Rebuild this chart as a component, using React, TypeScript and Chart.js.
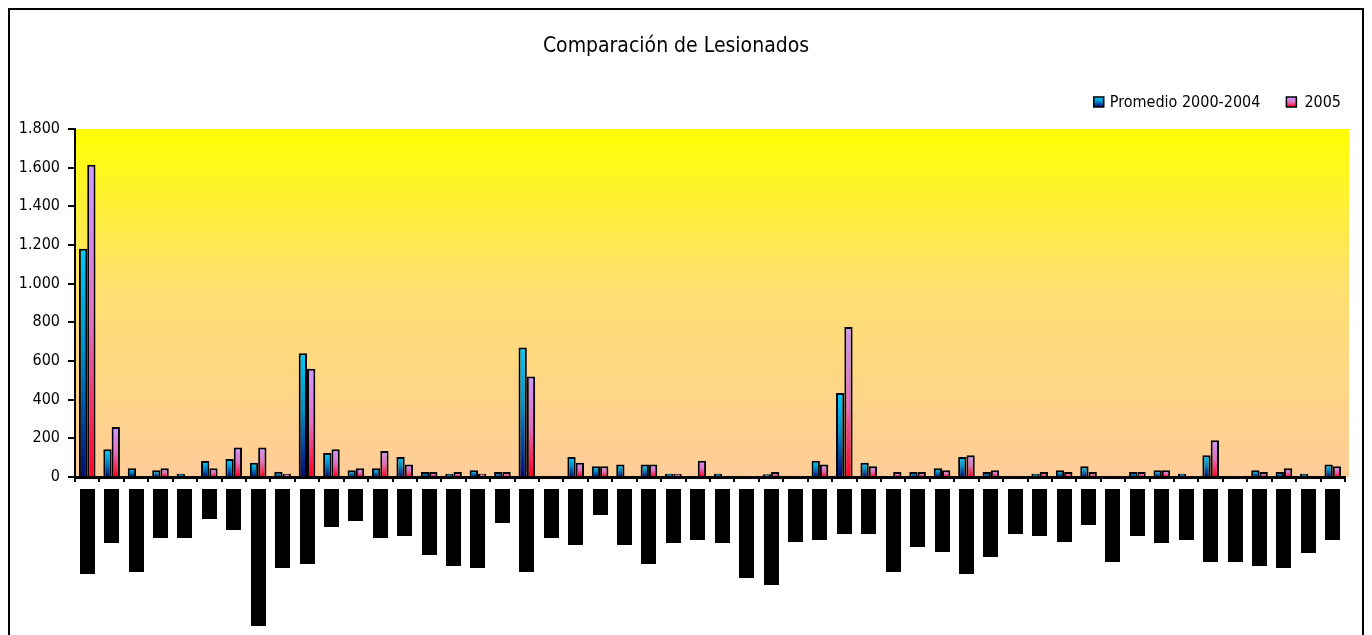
import React, { useEffect, useRef } from "react";
import { Chart, registerables } from "chart.js";

Chart.register(...registerables);

const categories = [
  "C01", "C02", "C03", "C04", "C05", "C06", "C07", "C08", "C09", "C10",
  "C11", "C12", "C13", "C14", "C15", "C16", "C17", "C18", "C19", "C20",
  "C21", "C22", "C23", "C24", "C25", "C26", "C27", "C28", "C29", "C30",
  "C31", "C32", "C33", "C34", "C35", "C36", "C37", "C38", "C39", "C40",
  "C41", "C42", "C43", "C44", "C45", "C46", "C47", "C48", "C49", "C50",
  "C51", "C52",
];

const promedio = [
  1180, 143, 45, 35, 17, 83, 93, 74, 27, 640,
  124, 35, 45, 103, 26, 17, 35, 26, 670, 3,
  103, 55, 65, 65, 17, 3, 17, 3, 14, 3,
  84, 435, 74, 3, 26, 45, 103, 26, 3, 17,
  35, 55, 3, 26, 35, 17, 112, 3, 35, 26,
  17, 65,
];

const anio2005 = [
  1615, 259, 5, 45, 3, 45, 152, 152, 17, 560,
  143, 45, 134, 65, 26, 26, 17, 26, 520, 2,
  74, 55, 3, 65, 17, 84, 5, 3, 26, 3,
  65, 776, 55, 26, 26, 35, 112, 35, 3, 26,
  26, 26, 3, 26, 35, 3, 190, 3, 26, 45,
  3, 55,
];

// lengths (px) of the redacted (blacked-out) category labels
const redactedLabelLengths = [
  85, 54, 83, 49, 49, 30, 41, 137, 79, 75,
  38, 32, 49, 47, 66, 77, 79, 34, 83, 49,
  56, 26, 56, 75, 54, 51, 54, 89, 96, 53,
  51, 45, 45, 83, 58, 63, 85, 68, 45, 47,
  53, 36, 73, 47, 54, 51, 73, 73, 77, 79,
  64, 51,
];

const yTicks = [0, 200, 400, 600, 800, 1000, 1200, 1400, 1600, 1800];

const seriesNames = ["Promedio 2000-2004", "2005"];
const title = "Comparación de Lesionados";

const FONT = "'Liberation Sans Narrow', 'DejaVu Sans Condensed', 'Roboto Condensed', 'Liberation Sans', sans-serif";

const blueStops: [number, string][] = [
  [0, "#00CCFF"],
  [0.45, "#0090C8"],
  [1, "#000A78"],
];
const pinkStops: [number, string][] = [
  [0, "#CC99FF"],
  [0.5, "#E070C0"],
  [1, "#FF0020"],
];

function makeGradient(ctx: CanvasRenderingContext2D, top: number, bottom: number, stops: [number, string][]) {
  const g = ctx.createLinearGradient(0, top, 0, bottom);
  stops.forEach(([o, c]) => g.addColorStop(o, c));
  return g;
}

function barFill(stops: [number, string][]) {
  return (c: any) => {
    const chart = c.chart;
    const ys = chart.scales?.y;
    if (!chart.chartArea || !ys || c.type !== "data") return stops[0][1];
    const v = c.raw as number;
    const top = ys.getPixelForValue(v);
    const bottom = ys.getPixelForValue(0);
    if (bottom - top < 1) return stops[stops.length - 1][1];
    return makeGradient(chart.ctx, top, bottom, stops);
  };
}

const fmt = (v: number) => String(v).replace(/\B(?=(\d{3})+(?!\d))/g, ".");

const decorPlugin = {
  id: "decor",
  beforeDraw(chart: any) {
    const { ctx, chartArea } = chart;
    if (!chartArea) return;
    ctx.save();
    const g = ctx.createLinearGradient(0, chartArea.top, 0, chartArea.bottom);
    g.addColorStop(0, "#FFFF00");
    g.addColorStop(0.45, "#FFE070");
    g.addColorStop(1, "#FFCC99");
    ctx.fillStyle = g;
    ctx.fillRect(chartArea.left, chartArea.top, chartArea.right - chartArea.left + 4, chartArea.bottom - chartArea.top);
    ctx.restore();
  },
  afterDraw(chart: any) {
    const { ctx, chartArea } = chart;
    const xs = chart.scales.x;
    ctx.save();
    // title
    ctx.fillStyle = "#000";
    ctx.font = `21px ${FONT}`;
    ctx.textAlign = "center";
    ctx.textBaseline = "middle";
    ctx.fillText(title, chart.width / 2 - 10, 37);

    // legend
    ctx.font = `16px ${FONT}`;
    ctx.textAlign = "left";
    const legendY = 92;
    const box = 10;
    const rightEdge = 1331;
    const w2 = ctx.measureText(seriesNames[1]).width;
    const w1 = ctx.measureText(seriesNames[0]).width;
    const x2text = rightEdge - w2;
    const x2box = x2text - 18;
    const x1text = x2box - 26 - w1;
    const x1box = x1text - 16;
    const items: [number, number, [number, string][], string][] = [
      [x1box, x1text, blueStops, seriesNames[0]],
      [x2box, x2text, pinkStops, seriesNames[1]],
    ];
    items.forEach(([bx, tx, stops, label]) => {
      ctx.fillStyle = makeGradient(ctx, legendY - box / 2, legendY + box / 2, stops);
      ctx.fillRect(bx, legendY - box / 2, box, box);
      ctx.lineWidth = 1.5;
      ctx.strokeStyle = "#000";
      ctx.strokeRect(bx, legendY - box / 2, box, box);
      ctx.fillStyle = "#000";
      ctx.fillText(label, tx, legendY + 1);
    });

    // redacted category labels
    ctx.fillStyle = "#000";
    redactedLabelLengths.forEach((len, i) => {
      const x = xs.getPixelForValue(i);
      ctx.fillRect(Math.round(x - 7.5), chartArea.bottom + 12, 15, len);
    });
    ctx.restore();
  },
};

export default function App() {
  const ref = useRef<HTMLCanvasElement | null>(null);
  useEffect(() => {
    if (!ref.current) return;
    const chart = new Chart(ref.current, {
      type: "bar",
      data: {
        labels: categories,
        datasets: [
          {
            label: seriesNames[0],
            data: promedio,
            backgroundColor: barFill(blueStops) as any,
            borderColor: "#000",
            borderWidth: 2,
          },
          {
            label: seriesNames[1],
            data: anio2005,
            backgroundColor: barFill(pinkStops) as any,
            borderColor: "#000",
            borderWidth: 2,
          },
        ],
      },
      options: {
        responsive: false,
        animation: false,
        devicePixelRatio: 1,
        layout: { padding: { top: 119, right: 17, left: 0, bottom: 0 } },
        plugins: {
          legend: { display: false },
          title: { display: false },
          tooltip: { enabled: false },
        },
        datasets: {
          bar: { categoryPercentage: 0.68, barPercentage: 1 },
        },
        scales: {
          x: {
            grid: {
              display: true,
              drawOnChartArea: false,
              drawTicks: true,
              tickLength: 5,
              color: "#000",
              lineWidth: 2,
            },
            border: { display: true, color: "#000", width: 3 },
            ticks: { callback: () => "", padding: 0 },
            afterFit: (s: any) => {
              s.height = 173;
            },
          },
          y: {
            min: 0,
            max: 1800,
            afterBuildTicks: (s: any) => {
              s.ticks = yTicks.map((v) => ({ value: v }));
            },
            grid: {
              display: true,
              drawOnChartArea: false,
              drawTicks: true,
              tickLength: 7,
              color: "#000",
              lineWidth: 2,
            },
            border: { display: true, color: "#000", width: 2 },
            ticks: {
              color: "#000",
              padding: 8,
              font: { family: FONT, size: 16 },
              callback: (v: any) => fmt(Number(v)),
            },
            afterFit: (s: any) => {
              s.width = 65;
            },
          },
        },
      },
      plugins: [decorPlugin],
    });
    return () => chart.destroy();
  }, []);

  return (
    <div style={{ border: "2px solid #000", height: 640, overflow: "hidden" }}>
      <canvas ref={ref} width={1352} height={640} style={{ display: "block" }} />
    </div>
  );
}
